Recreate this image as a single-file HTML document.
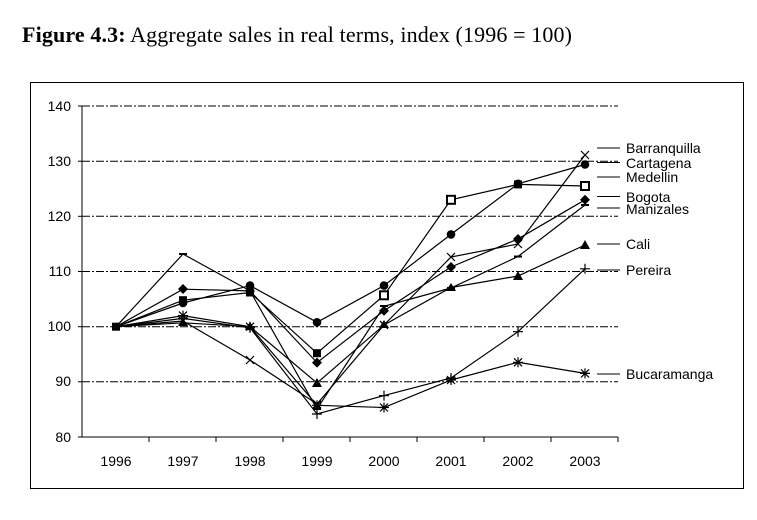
<!DOCTYPE html>
<html><head><meta charset="utf-8"><style>
body{margin:0;background:#fff;}
svg{display:block;}
</style></head><body>
<svg width="757" height="520" xmlns="http://www.w3.org/2000/svg" font-family="Liberation Sans, Arial, sans-serif">
<rect width="757" height="520" fill="#fff"/>
<text x="22" y="42" font-family="Liberation Serif, serif" font-size="22" textLength="550"><tspan font-weight="bold">Figure 4.3:</tspan> Aggregate sales in real terms, index (1996 = 100)</text>
<rect x="30.5" y="82.5" width="713" height="406" fill="none" stroke="#000" stroke-width="1"/>
<g stroke="#000" stroke-width="1" stroke-dasharray="8,2,2,2">
<line x1="82" y1="106" x2="618" y2="106"/>
<line x1="82" y1="161.2" x2="618" y2="161.2"/>
<line x1="82" y1="216.3" x2="618" y2="216.3"/>
<line x1="82" y1="271.5" x2="618" y2="271.5"/>
<line x1="82" y1="326.7" x2="618" y2="326.7"/>
<line x1="82" y1="381.8" x2="618" y2="381.8"/>
</g>
<g stroke="#000" stroke-width="1">
<line x1="82" y1="106" x2="82" y2="437"/>
<line x1="78" y1="106" x2="82" y2="106"/><line x1="78" y1="161.2" x2="82" y2="161.2"/><line x1="78" y1="216.3" x2="82" y2="216.3"/><line x1="78" y1="271.5" x2="82" y2="271.5"/><line x1="78" y1="326.7" x2="82" y2="326.7"/><line x1="78" y1="381.8" x2="82" y2="381.8"/><line x1="78" y1="437" x2="82" y2="437"/>
<line x1="82" y1="437" x2="618" y2="437"/>
<line x1="149" y1="437" x2="149" y2="442"/><line x1="216" y1="437" x2="216" y2="442"/><line x1="283" y1="437" x2="283" y2="442"/><line x1="350" y1="437" x2="350" y2="442"/><line x1="417" y1="437" x2="417" y2="442"/><line x1="484" y1="437" x2="484" y2="442"/><line x1="551" y1="437" x2="551" y2="442"/><line x1="618" y1="437" x2="618" y2="442"/>
</g>
<g font-size="14" text-anchor="end">
<text x="71" y="111">140</text><text x="71" y="166">130</text><text x="71" y="221">120</text><text x="71" y="276">110</text><text x="71" y="331">100</text><text x="71" y="386">90</text><text x="71" y="442">80</text>
</g>
<g font-size="14" text-anchor="middle">
<text x="116" y="466">1996</text><text x="183" y="466">1997</text><text x="250" y="466">1998</text><text x="317" y="466">1999</text><text x="384" y="466">2000</text><text x="451" y="466">2001</text><text x="518" y="466">2002</text><text x="585" y="466">2003</text>
</g>
<g fill="none" stroke="#000" stroke-width="1.2">
<polyline points="116,326.7 183,300.2 250,292.5 317,353.2 384,295.3 451,199.8 518,184.4 585,186"/>
<polyline points="116,326.7 183,303 250,285.6 317,322.3 384,285.6 451,234.4 518,183.8 585,164.5"/>
<polyline points="116,326.7 183,289.2 250,290.9 317,362.6 384,310.7 451,267 518,238.9 585,199.8"/>
<polyline points="116,326.7 183,321 250,360 317,404 384,325 451,257 518,244 585,155"/>
<polyline points="116,326.7 183,322.8 250,326.7 317,383 384,325 451,287.5 518,276 585,245"/>
<polyline points="116,326.7 183,254 250,290.9 317,409 384,306.3 451,288 518,256.5 585,205"/>
<polyline points="116,326.7 183,318.4 250,327.8 317,414 384,395.6 451,378 518,331.7 585,268.8"/>
<polyline points="116,326.7 183,315.6 250,326.7 317,405.3 384,407.5 451,380 518,362.3 585,373.4"/>
</g>
<g fill="#000">
<rect x="112" y="322.7" width="8" height="8"/><rect x="179" y="296.2" width="8" height="8"/><rect x="246" y="288.5" width="8" height="8"/><rect x="313" y="349.2" width="8" height="8"/><rect x="380" y="291.3" width="8" height="8" fill="#fff" stroke="#000" stroke-width="2"/><rect x="447" y="195.8" width="8" height="8" fill="#fff" stroke="#000" stroke-width="2"/><rect x="514" y="180.4" width="8" height="8"/><rect x="581" y="182" width="8" height="8" fill="#fff" stroke="#000" stroke-width="2"/>
<circle cx="183" cy="303" r="4.3"/><circle cx="250" cy="285.6" r="4.3"/><circle cx="317" cy="322.3" r="4.3"/><circle cx="384" cy="285.6" r="4.3"/><circle cx="451" cy="234.4" r="4.3"/><circle cx="518" cy="183.8" r="4.3"/><circle cx="585" cy="164.5" r="4.3"/>
<g><path d="M183,284 l5,5 l-5,5 l-5,-5z"/><path d="M250,286 l5,5 l-5,5 l-5,-5z"/><path d="M317,357.6 l5,5 l-5,5 l-5,-5z"/><path d="M384,305.7 l5,5 l-5,5 l-5,-5z"/><path d="M451,262 l5,5 l-5,5 l-5,-5z"/><path d="M518,234 l5,5 l-5,5 l-5,-5z"/><path d="M585,194.8 l5,5 l-5,5 l-5,-5z"/></g>
<path d="M183,318 l5,8 h-10z"/><path d="M250,322 l5,8 h-10z"/><path d="M317,378 l5,9 h-10z"/><path d="M384,320 l5,8 h-10z"/><path d="M451,283 l5,8 h-10z"/><path d="M518,271 l5,9 h-10z"/><path d="M585,240 l5,9 h-10z"/>
</g>
<g stroke="#000" stroke-width="1.2" fill="none">
<path d="M179,317 l8,8 m0,-8 l-8,8 M246,356 l8,8 m0,-8 l-8,8 M313,400 l8,8 m0,-8 l-8,8 M380,321 l8,8 m0,-8 l-8,8 M447,253 l8,8 m0,-8 l-8,8 M514,240 l8,8 m0,-8 l-8,8 M581,151 l8,8 m0,-8 l-8,8"/>
<path d="M179,254 h8 M246,291 h8 M313,409 h8 M380,306 h8 M447,288 h8 M514,256.5 h8 M581,205 h8" stroke-width="2"/>
<path d="M178,318.4 h10 m-5,-5 v10 M245,327.8 h10 m-5,-5 v10 M312,414 h10 m-5,-5 v10 M379,395.6 h10 m-5,-5 v10 M446,378 h10 m-5,-5 v10 M513,331.7 h10 m-5,-5 v10 M580,268.8 h10 m-5,-5 v10"/>
<path d="M178,315.6 h10 m-5,-5 v10 m-4,-9 l8,8 m0,-8 l-8,8 M245,326.7 h10 m-5,-5 v10 m-4,-9 l8,8 m0,-8 l-8,8 M312,405.3 h10 m-5,-5 v10 m-4,-9 l8,8 m0,-8 l-8,8 M379,407.5 h10 m-5,-5 v10 m-4,-9 l8,8 m0,-8 l-8,8 M446,380 h10 m-5,-5 v10 m-4,-9 l8,8 m0,-8 l-8,8 M513,362.3 h10 m-5,-5 v10 m-4,-9 l8,8 m0,-8 l-8,8 M580,373.4 h10 m-5,-5 v10 m-4,-9 l8,8 m0,-8 l-8,8"/>
<path d="M597,148 h23 M597,162.5 h23 M597,177 h23 M597,196.5 h23 M597,208 h23 M597,244 h23 M597,270 h23 M597,374 h23" stroke-width="1"/>
</g>
<g font-size="14">
<text x="626" y="153">Barranquilla</text>
<text x="626" y="168">Cartagena</text>
<text x="626" y="182">Medellin</text>
<text x="626" y="202">Bogota</text>
<text x="626" y="214">Manizales</text>
<text x="626" y="249">Cali</text>
<text x="626" y="275">Pereira</text>
<text x="626" y="379">Bucaramanga</text>
</g>
</svg>
</body></html>
